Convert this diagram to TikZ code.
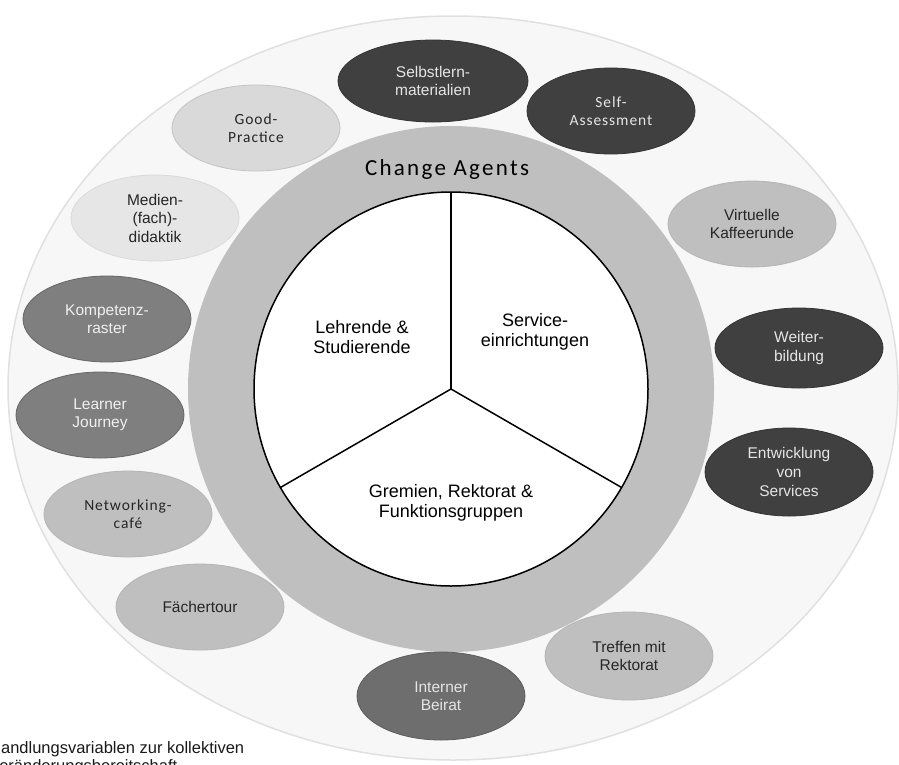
\documentclass[tikz,border=0pt]{standalone}
\usepackage{fontspec}
\setmainfont{Liberation Sans}
\newfontfamily\calfont[LetterSpace=6]{Carlito}
\newfontfamily\headfont[LetterSpace=10]{Carlito}
\usetikzlibrary{shapes.geometric}

\definecolor{gBack}{HTML}{F7F7F7}
\definecolor{gRing}{HTML}{BFBFBF}
\definecolor{gDeep}{HTML}{404040}
\definecolor{gMid}{HTML}{7F7F7F}
\definecolor{gBeirat}{HTML}{6E6E6E}
\definecolor{gSoft}{HTML}{BFBFBF}
\definecolor{gPale}{HTML}{D9D9D9}
\definecolor{gFaint}{HTML}{E6E6E6}

\begin{document}
\begin{tikzpicture}[x=1pt, y=-1pt,
  bubble/.style={ellipse, minimum width=168, minimum height=86, inner sep=0pt,
    align=center, line width=0.8pt, font=\fontsize{15.5}{18.5}\selectfont},
  deep/.style={bubble, fill=gDeep, draw=gDeep!80!black, text=white!90!black},
  midtone/.style={bubble, fill=gMid, draw=gMid!80!black, text=white!94!black},
  beirat/.style={bubble, fill=gBeirat, draw=gBeirat!85!black, text=white!90!black},
  soft/.style={bubble, fill=gSoft, draw=gSoft!95!black, text=black!85},
  pale/.style={bubble, fill=gPale, draw=gPale!90!black, text=black!85},
  faint/.style={bubble, fill=gFaint, draw=gFaint!95!black, text=black!85},
  sector/.style={align=center, font=\fontsize{18}{20}\selectfont}
]
\useasboundingbox (0,0) rectangle (899,764);

% background and the Change Agents ring
\draw[fill=gBack, draw=black!12, line width=1.5pt] (453,388) ellipse [x radius=445, y radius=372];
\fill[gRing] (451,389) circle [radius=263];
\draw[fill=white, line width=1.5pt] (451,389) circle [radius=197];

\coordinate (mid) at (451,389);
\draw[line width=1.5pt] (mid) -- ++(90:-197);
\draw[line width=1.5pt] (mid) -- ++(-30:-197);
\draw[line width=1.5pt] (mid) -- ++(210:-197);

\node[anchor=base, font=\headfont\fontsize{23}{26}\selectfont] (agents) at (447,175) {Change Agents};

\node[sector] (lehrende) at (362,337) {Lehrende \&\\Studierende};
\node[sector] (service) at (535,332) {Service-\\einrichtungen};
\node[sector] (gremien) at (451,503) {Gremien, Rektorat \&\\Funktionsgruppen};

% measures around the ring
\node[deep, minimum width=190, minimum height=82] (selbst) at (433,81) {Selbstlern-\\materialien};
\node[deep, font=\calfont\fontsize{15.5}{18.5}\selectfont] (selfass) at (611,111) {Self-\\Assessment};
\node[soft] (kaffee) at (752,224) {Virtuelle\\Kaffeerunde};
\node[deep, minimum height=80] (weiter) at (799,348) {Weiter-\\bildung};
\node[deep, minimum height=88, font=\fontsize{15.5}{19}\selectfont] (entw) at (789,472) {Entwicklung\\von\\Services};
\node[soft, minimum height=88] (treffen) at (629,656) {Treffen mit\\Rektorat};
\node[beirat, minimum height=88] (beirat) at (441,696) {Interner\\Beirat};
\node[soft] (faecher) at (200,607) {Fächertour};
\node[soft, font=\calfont\fontsize{15.5}{18.5}\selectfont] (network) at (128,514) {Networking-\\café};
\node[midtone] (learner) at (100,415) {Learner\\Journey};
\node[midtone] (kompetenz) at (107,319) {Kompetenz-\\raster};
\node[faint] (medien) at (155,218) {Medien-\\(fach)-\\didaktik};
\node[pale, font=\calfont\fontsize{15.5}{18.5}\selectfont] (good) at (256,128) {Good-\\Practice};

% caption, cut by the page edges
\node[anchor=north west, inner sep=0pt, align=left, font=\fontsize{16.5}{18}\selectfont, text=black!90] (caption) at (-11,741)
  {Handlungsvariablen zur kollektiven\\Veränderungsbereitschaft};
\end{tikzpicture}
\end{document}
